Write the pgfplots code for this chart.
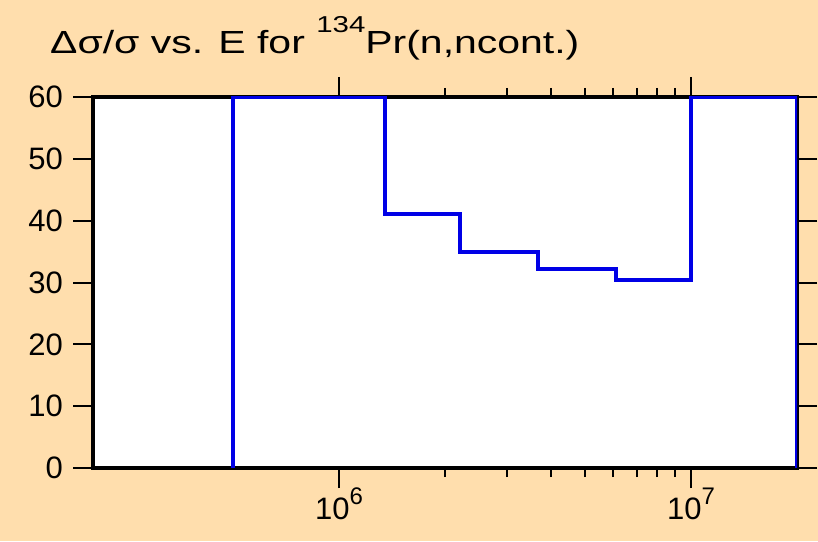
\documentclass[border=0pt]{standalone}
\usepackage{fontspec}
\setmainfont{Liberation Sans}
\usepackage{pgfplots}
\pgfplotsset{compat=1.18}
\definecolor{bg}{RGB}{255,222,173}
\definecolor{lineblue}{RGB}{0,0,230}
\begin{document}
\begin{tikzpicture}[x=1pt,y=1pt]
\fill[bg] (0,0) rectangle (818,541);
\node[anchor=base west, font=\fontsize{32}{32}\selectfont, inner sep=0pt] at (50,487)
  {\scalebox{1.28}[1]{Δσ/σ vs. E for \raisebox{21pt}{\fontsize{23}{23}\selectfont 134}Pr(n,ncont.)}};
\begin{axis}[
  at={(93pt,73pt)}, anchor=south west,
  scale only axis, width=704pt, height=371pt,
  xmode=log, xmin=2e5, xmax=2e7, ymin=0, ymax=60,
  axis background/.style={fill=white},
  axis line style={line width=4pt, black},
  tick style={line width=2pt, black},
  tick align=outside,
  major tick length=20pt, minor tick length=9pt,
  xtick={1e6,1e7},
  xticklabels={10\raisebox{15pt}{\fontsize{24}{24}\selectfont 6},10\raisebox{15pt}{\fontsize{24}{24}\selectfont 7}},
  ytick={0,10,20,30,40,50,60},
  /pgf/number format/assume math mode=true,
  ticklabel style={font=\fontsize{31}{31}\selectfont},
  xticklabel style={inner sep=0pt},
  yticklabel style={inner sep=0pt, xshift=-10pt},
]
\addplot[const plot mark left, lineblue, line width=4pt] coordinates {
  (5e5,0) (5e5,60) (1.35e6,41) (2.2e6,34.9) (3.68e6,32.2) (6.1e6,30.4) (1e7,60) (2e7,60) (2e7,0)
};
\end{axis}
\pgfresetboundingbox
\path (0,0) rectangle (818,541);
\end{tikzpicture}
\end{document}
